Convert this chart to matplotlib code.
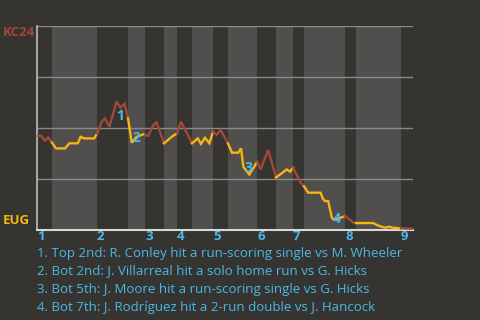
import matplotlib
matplotlib.use("Agg")
import matplotlib.pyplot as plt
import numpy as np

plt.rcParams['font.family'] = ['Open Sans', 'DejaVu Sans']

# game progress (plays) and KC24 win probability after each play
play = [0, 1, 2, 2.8, 3.75, 4.75, 7, 8.1, 10.2, 10.9, 11.8, 14.3,
        15, 16.2, 17, 18.1, 19.9, 20.9, 21.9, 22.75,
        23.7, 24.9, 26.6, 27,
        27.8, 29.1, 29.9, 31.75,
        32.75, 33.75, 35,
        36, 38.75,
        40.2, 41, 42, 43.1, 44,
        44.9, 45.9, 47.75,
        48.75, 50.3, 51, 51.6, 53.1, 55,
        55.9, 57.8, 59.75,
        61.2, 62.4, 63.25, 64,
        65.75, 66.75,
        67.8, 70.9, 71.5, 72, 72.8, 73.7, 74.1, 75.3, 76.6, 77,
        78.25, 79.1, 79.75,
        84, 85.25, 87, 88, 89, 91,
        94]
wp = [0.462, 0.462, 0.438, 0.454, 0.428, 0.400, 0.400, 0.425, 0.425, 0.457, 0.449, 0.449,
      0.473, 0.531, 0.547, 0.506, 0.630, 0.600, 0.620, 0.547,
      0.428, 0.457, 0.469, 0.466,
      0.461, 0.515, 0.528, 0.425,
      0.441, 0.458, 0.474,
      0.531, 0.425,
      0.449, 0.422, 0.452, 0.425, 0.482,
      0.466, 0.490, 0.424,
      0.379, 0.379, 0.400, 0.309, 0.272, 0.333,
      0.297, 0.392, 0.258,
      0.278, 0.297, 0.286, 0.306,
      0.237, 0.214,
      0.183, 0.183, 0.152, 0.142, 0.142, 0.061, 0.052, 0.057, 0.065, 0.069,
      0.049, 0.037, 0.034,
      0.034, 0.022, 0.011, 0.016, 0.011, 0.008,
      0.006]

# start of each half inning (top = KC24 batting, bottom = EUG batting)
half_starts = [0, 3.75, 15, 22.75, 27, 31.75, 35, 38.75, 44, 47.75,
               55, 59.75, 64, 66.75, 77, 79.75, 91, 94]
innings = ['1', '2', '3', '4', '5', '6', '7', '8', '9']

scoring_x = [20.75, 24.75, 52.75, 75]
scoring_dy = [-9, 0, 5, 0]
notes = [
    "1. Top 2nd: R. Conley hit a run-scoring single vs M. Wheeler",
    "2. Bot 2nd: J. Villarreal hit a solo home run vs G. Hicks",
    "3. Bot 5th: J. Moore hit a run-scoring single vs G. Hicks",
    "4. Bot 7th: J. Rodríguez hit a 2-run double vs J. Hancock",
]

BG = '#363431'
LIGHT = '#504f4d'
KC = '#a3473b'
EUG = '#f7b512'
BLUE = '#4bb8e6'

play = np.array(play)
wp = np.array(wp)

fig = plt.figure(figsize=(4.8, 3.2), dpi=100, facecolor=BG)
ax = fig.add_axes([37 / 480, 1 - 230 / 320, 376 / 480, 204 / 320])
ax.set_facecolor(BG)

for k in range(len(half_starts) - 1):
    a, b = half_starts[k], half_starts[k + 1]
    if k % 2 == 1:
        ax.axvspan(a, b, color=LIGHT, lw=0, zorder=0)
    m = (play >= a - 1e-9) & (play <= b + 1e-9)
    ax.plot(play[m], wp[m], color=KC if k % 2 == 0 else EUG, lw=1.7,
            zorder=3, solid_joinstyle='miter')

for yv in [0.25, 0.5, 0.75, 1.0]:
    ax.axhline(yv, color='#8a8a88', lw=1, zorder=1)

for i, (x, dy) in enumerate(zip(scoring_x, scoring_dy)):
    y = np.interp(x, play, wp)
    ax.annotate(str(i + 1), (x, y), xytext=(0, dy * 0.72), textcoords='offset points',
                ha='center', va='center', color=BLUE, fontsize=10,
                fontweight='bold', zorder=4)

ax.set_xlim(0, 94)
ax.set_ylim(0, 1)
ax.set_xticks(half_starts[:-1:2])
ax.set_xticklabels(innings, color=BLUE, fontweight='bold', fontsize=9.5, ha='left')
ax.tick_params(axis='x', length=0, pad=0)
ax.set_yticks([])
for s in ['top', 'right']:
    ax.spines[s].set_visible(False)
ax.spines['left'].set_color('#bdbdbd')
ax.spines['bottom'].set_color('#d8d8d8')
ax.spines['left'].set_linewidth(1.2)
ax.spines['bottom'].set_linewidth(1.5)

fig.text(3 / 480, 1 - 33 / 320, 'KC24', color=KC, fontsize=9.5, fontweight='bold', va='center')
fig.text(3 / 480, 1 - 221 / 320, 'EUG', color=EUG, fontsize=9.5, fontweight='bold', va='center')

for i, line in enumerate(notes):
    fig.text(37 / 480, 1 - (253 + 18 * i) / 320, line, color=BLUE, fontsize=9.5, va='center')

fig.savefig('out.png', dpi=100, facecolor=BG)
